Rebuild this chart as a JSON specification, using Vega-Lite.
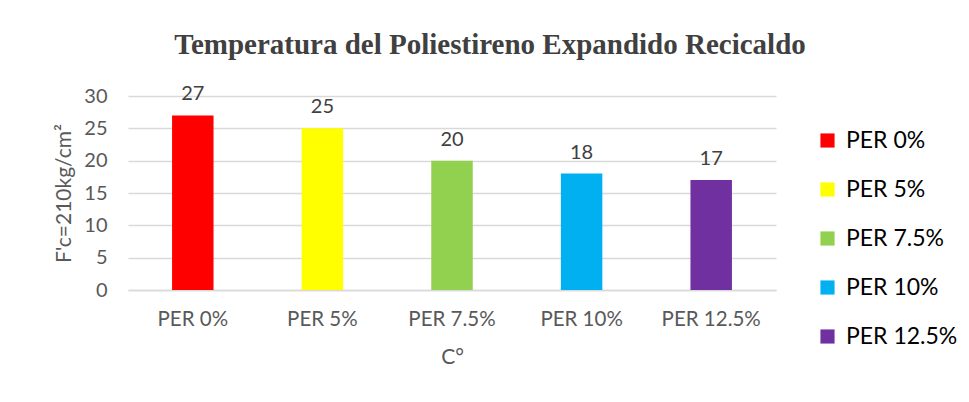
{
  "$schema": "https://vega.github.io/schema/vega-lite/v6.json",
  "width": 648,
  "height": 194,
  "autosize": "none",
  "padding": {"left": 128, "top": 96, "right": 193, "bottom": 112},
  "background": "white",
  "config": {"view": {"stroke": null}},
  "title": {
    "text": "Temperatura del Poliestireno Expandido Recicaldo",
    "font": "Liberation Serif",
    "fontSize": 29,
    "fontWeight": "bold",
    "color": "#404040",
    "anchor": "middle",
    "dx": 38,
    "offset": 24
  },
  "data": {
    "values": [
      {"cat": "PER 0%", "val": 27},
      {"cat": "PER 5%", "val": 25},
      {"cat": "PER 7.5%", "val": 20},
      {"cat": "PER 10%", "val": 18},
      {"cat": "PER 12.5%", "val": 17}
    ]
  },
  "encoding": {
    "x": {
      "field": "cat",
      "type": "nominal",
      "sort": null,
      "title": "C°",
      "scale": {"paddingInner": 0.68, "paddingOuter": 0.34},
      "axis": {
        "labelAngle": 0,
        "labelFont": "Lato",
        "labelFontSize": 20.5,
        "labelColor": "#595959",
        "labelPadding": 19,
        "ticks": false,
        "domainColor": "#d9d9d9",
        "domainWidth": 1.5,
        "titleFont": "Lato",
        "titleFontSize": 21,
        "titleFontWeight": "normal",
        "titleColor": "#595959",
        "titlePadding": 17
      }
    },
    "y": {
      "field": "val",
      "type": "quantitative",
      "title": "F'c=210kg/cm²",
      "scale": {"domain": [0, 30]},
      "axis": {
        "values": [0, 5, 10, 15, 20, 25, 30],
        "labelFont": "Lato",
        "labelFontSize": 20,
        "labelColor": "#595959",
        "labelPadding": 21,
        "ticks": false,
        "domain": false,
        "gridColor": "#d9d9d9",
        "gridWidth": 1.5,
        "titleFont": "Lato",
        "titleFontSize": 21,
        "titleFontWeight": "normal",
        "titleColor": "#595959",
        "titlePadding": 9
      }
    }
  },
  "layer": [
    {
      "mark": {"type": "bar"},
      "encoding": {
        "color": {
          "field": "cat",
          "type": "nominal",
          "sort": null,
          "scale": {
            "domain": ["PER 0%", "PER 5%", "PER 7.5%", "PER 10%", "PER 12.5%"],
            "range": ["#FF0000", "#FFFF00", "#92D050", "#00B0F0", "#7030A0"]
          },
          "legend": {
            "title": null,
            "orient": "none",
            "legendX": 688,
            "legendY": 33,
            "symbolType": "square",
            "symbolSize": 200,
            "symbolStrokeWidth": 0,
            "labelFont": "Lato",
            "labelFontSize": 23,
            "labelColor": "#000000",
            "labelOffset": 7,
            "rowPadding": 25
          }
        }
      }
    },
    {
      "mark": {"type": "text", "baseline": "bottom", "dy": -11, "font": "Lato", "fontSize": 20, "color": "#404040"},
      "encoding": {"text": {"field": "val", "type": "quantitative"}}
    }
  ]
}
